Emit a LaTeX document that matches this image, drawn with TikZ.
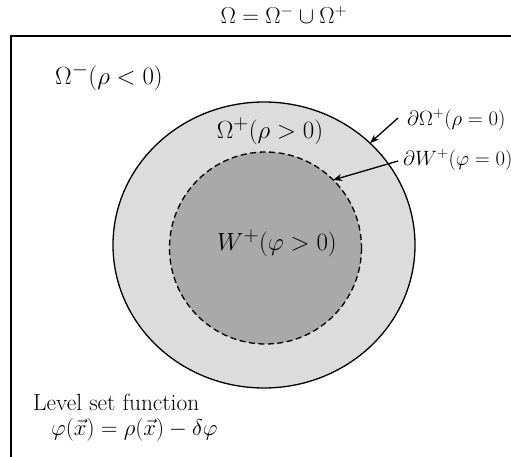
\documentclass[tikz,border=0pt]{standalone}
\usetikzlibrary{arrows.meta}
\definecolor{ringgray}{HTML}{DCDCDC}
\definecolor{coregray}{HTML}{A9A9A9}
\begin{document}
\begin{tikzpicture}[x=1pt,y=-1pt,
  lbl/.style={inner sep=0pt,font=\fontsize{24.88}{29}\selectfont},
  smalllbl/.style={inner sep=0pt,font=\fontsize{20.74}{25}\selectfont},
  ptr/.style={line width=1.3pt,-{Stealth[length=9pt,width=7pt]}},
  frameline/.style={line width=1.3pt}]
\useasboundingbox (0,0) rectangle (511,457);
\fill[white] (0,0) rectangle (511,457);
% frame (only top and left visible)
\draw[frameline] (11,457) -- (11,36) -- (511,36);
% outer region
\draw[fill=ringgray,line width=1.3pt] (264,245) ellipse [x radius=151,y radius=143];
% inner region
\draw[fill=coregray,line width=1.3pt,dash pattern=on 6pt off 3.5pt] (265.5,248) circle [radius=96];
% labels
\node[smalllbl,scale=1.109] (title) at (284,15) {$\Omega=\Omega^{-}\cup\Omega^{+}$};
\node[lbl,anchor=west] (om) at (55,77) {$\Omega^{-}(\rho<0)$};
\node[lbl] (op) at (270,131) {$\Omega^{+}(\rho>0)$};
\node[lbl] (wp) at (277,243) {$W^{+}(\varphi>0)$};
\node[smalllbl,anchor=west] (dop) at (407,120) {$\partial\Omega^{+}(\rho=0)$};
\node[smalllbl,anchor=west] (dwp) at (403,160) {$\partial W^{+}(\varphi=0)$};
\node[inner sep=0pt,anchor=west,font=\fontsize{23.4}{28}\selectfont] (lsf) at (33,402) {Level set function};
\node[smalllbl,anchor=west,scale=1.1] (eq) at (51,430) {$\varphi(\vec{x})=\rho(\vec{x})-\delta\varphi$};
% arrow targets
\coordinate (c1) at (370,143);
\coordinate (c2) at (333,180);
\draw[ptr] (dop.west) ++(-9,-2) coordinate (s1) -- (c1);
\draw[ptr] (dwp.west) ++(-5,1) coordinate (s2) -- (c2);
\end{tikzpicture}
\end{document}
